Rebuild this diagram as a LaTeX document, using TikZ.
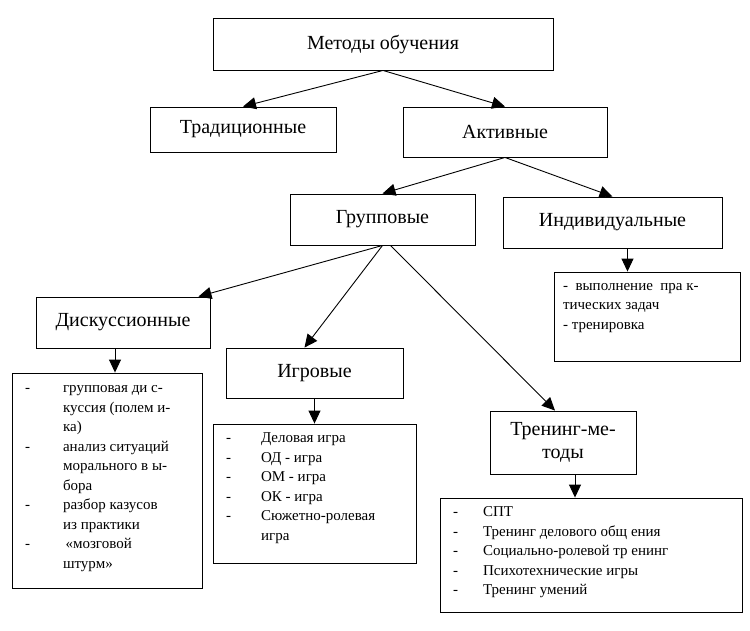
\documentclass[tikz,border=0pt]{standalone}
\usepackage{fontspec}
\setmainfont{Liberation Serif}
\usetikzlibrary{arrows.meta}
\begin{document}
\begin{tikzpicture}[x=1pt,y=-1pt,
  bx/.style={draw,line width=0.9pt},
  hd/.style={font=\fontsize{20}{23}\selectfont},
  ls/.style={font=\fontsize{15}{19.5}\selectfont,align=left},
  ar/.style={-{Triangle[length=13pt,width=12pt]},line width=0.9pt}]
\useasboundingbox (0,0) rectangle (750,630);
\node[bx,minimum width=340,minimum height=52,hd] (m) at (383,44) {Методы обучения};
\node[bx,minimum width=186,minimum height=45,hd] (t) at (243,129.5) {Традиционные};
\node[bx,minimum width=204,minimum height=50,hd] (a) at (505,132) {Активные};
\node[bx,minimum width=185,minimum height=51,hd] (g) at (382.5,219.5) {Групповые};
\node[bx,minimum width=219,minimum height=51,hd] (i) at (612.5,222.5) {Индивидуальные};
\node[bx,minimum width=174,minimum height=51,hd] (d) at (123,322.5) {Дискуссионные};
\node[bx,minimum width=177,minimum height=50,hd] (ig) at (314.5,373) {Игровые};
\node[bx,minimum width=146,minimum height=63,hd,align=center] (tr) at (563,442.5) {Тренинг-ме-\\тоды};
\node[bx,minimum width=190,minimum height=215] (dl) at (107,480.5) {};
\node[ls,anchor=north west] (dlt) at (dl.north west) [xshift=10pt,yshift=-3pt]{\begin{tabular}{@{}p{38pt}@{}l@{}}
- & групповая ди с-\\ & куссия (полем и-\\ & ка)\\
- & анализ ситуаций\\ & морального в ы-\\ & бора\\
- & разбор казусов\\ & из практики\\
- & \,«мозговой\\ & штурм»\end{tabular}};
\node[bx,minimum width=203,minimum height=139] (il) at (314.5,493.5) {};
\node[ls,anchor=north west] (ilt) at (il.north west) [xshift=10pt,yshift=-2pt]{\begin{tabular}{@{}p{35pt}@{}l@{}}
- & Деловая игра\\ - & ОД - игра\\ - & ОМ - игра\\ - & ОК - игра\\ - & Сюжетно-ролевая\\ & игра\end{tabular}};
\node[bx,minimum width=186,minimum height=89] (inl) at (647,316.5) {};
\node[ls,anchor=north west] (inlt) at (inl.north west) [xshift=6pt,yshift=-8pt]{- \ выполнение \ пра к-\\тических задач\\- тренировка};
\node[bx,minimum width=302,minimum height=114] (tl) at (591,555) {};
\node[ls,anchor=north west] (tlt) at (tl.north west) [xshift=10pt,yshift=-2pt]{\begin{tabular}{@{}p{30pt}@{}l@{}}
- & СПТ\\ - & Тренинг делового общ ения\\ - & Социально-ролевой тр енинг\\ - & Психотехнические игры\\ - & Тренинг умений\end{tabular}};
\draw[ar] (m.south) -- (t.north);
\draw[ar] (m.south) -- (a.north);
\draw[ar] (a.south) -- (g.north);
\draw[ar] (a.south) -- (i.north);
\draw[ar] (g.south) -- ([xshift=-12pt]d.north east);
\draw[ar] (g.south) -- ([xshift=-10pt]ig.north);
\draw[ar] ([xshift=8pt]g.south) -- ([xshift=-8pt]tr.north);
\draw[ar] ([xshift=-8pt]d.south) -- ([xshift=-8pt]d.south|-dl.north);
\draw[ar] (ig.south) -- (il.north);
\draw[ar] ([xshift=15pt]i.south) -- ([xshift=15pt]i.south|-inl.north);
\draw[ar] ([xshift=12pt]tr.south) -- ([xshift=12pt]tr.south|-tl.north);
\end{tikzpicture}
\end{document}
